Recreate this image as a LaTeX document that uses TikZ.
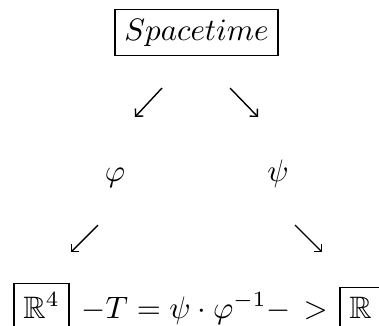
\documentclass[tikz,border=0pt]{standalone}
\usepackage{amssymb}
\usetikzlibrary{arrows.meta}
\begin{document}
\begin{tikzpicture}[x=1pt,y=-1pt,
  every node/.style={scale=3.1, inner sep=0pt},
  boxed/.style={draw, line width=1.4pt, inner sep=3pt},
  arr/.style={line width=1.4pt, -{Straight Barb[length=5.5pt,width=11pt,line width=1.4pt]}}]
\useasboundingbox (0,0) rectangle (379,325);
\clip (0,0) rectangle (379,325);
% top
\node[boxed, anchor=base] (st) at (196.5,40) {$Spacetime$};
% first arrows
\coordinate (a1s) at (162,88); \coordinate (a1e) at (135,117);
\coordinate (a2s) at (230,88); \coordinate (a2e) at (258,117);
\draw[arr] (a1s) -- (a1e);
\draw[arr] (a2s) -- (a2e);
% labels
\node[anchor=base] (phi) at (115,181) {$\varphi$};
\node[anchor=base] (psi) at (278,181) {$\psi$};
% second arrows
\coordinate (a3s) at (98,225); \coordinate (a3e) at (71,252);
\coordinate (a4s) at (295,225); \coordinate (a4e) at (322,252);
\draw[arr] (a3s) -- (a3e);
\draw[arr] (a4s) -- (a4e);
% bottom row
\node[boxed, anchor=base west] (r4) at (12,318) {$\mathbb{R}^4$};
\node[anchor=base west] (eq) at (81,318) {$-T=\psi\cdot\varphi^{-1}-$};
\node[anchor=base west] (gt) at (303,318) {$>$};
\node[boxed, anchor=base west] (r) at (338,318) {$\mathbb{R}$};
\end{tikzpicture}
\end{document}
